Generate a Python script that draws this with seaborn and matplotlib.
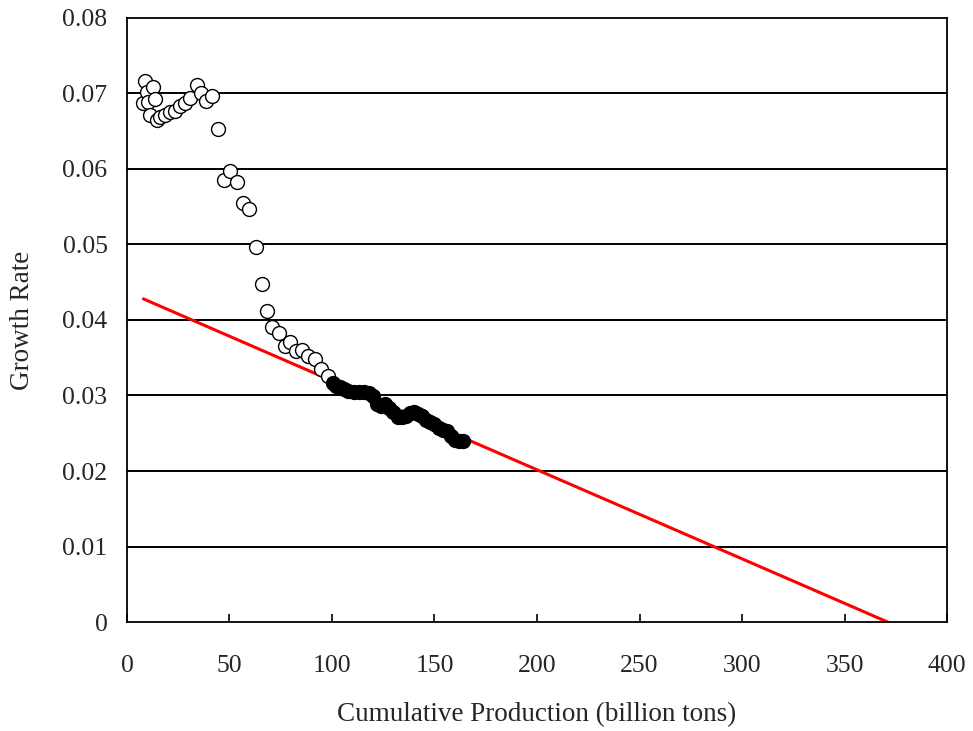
import matplotlib
matplotlib.use("Agg")
import matplotlib.pyplot as plt
import seaborn as sns
import pandas as pd

# Open circles (earlier period)
open_x = [7.8, 8.8, 9.8, 10.3, 11.2, 12.7, 13.7, 14.7, 16.1, 18.6, 21.0, 23.4, 25.9, 28.3,
          30.8, 34.2, 36.1, 38.6, 41.5, 44.4, 47.4, 50.3, 53.7, 56.7, 59.6, 63.0, 65.9,
          68.4, 70.8, 74.2, 77.2, 79.6, 82.5, 85.5, 88.4, 91.8, 94.8, 98.2]
open_y = [0.0687, 0.0717, 0.0702, 0.0689, 0.0672, 0.0709, 0.0693, 0.0665, 0.0669, 0.0672,
          0.0675, 0.0677, 0.0683, 0.0687, 0.0694, 0.0711, 0.0701, 0.0690, 0.0697, 0.0653,
          0.0585, 0.0597, 0.0583, 0.0555, 0.0547, 0.0497, 0.0448, 0.0412, 0.0391, 0.0383,
          0.0366, 0.0371, 0.0359, 0.0360, 0.0352, 0.0348, 0.0335, 0.0326]

# Filled circles (later period)
fill_x = [100.5, 102, 104, 106, 108, 110.5, 113, 115.5, 118, 120, 122, 124, 126, 128, 130,
          132, 134, 136, 138, 140, 142, 144, 146, 148, 150, 152, 154, 156, 158, 160, 162, 164]
fill_y = [0.0316, 0.0313, 0.0311, 0.0308, 0.0306, 0.0305, 0.0305, 0.0305, 0.0303, 0.0299,
          0.0289, 0.0286, 0.0289, 0.0283, 0.0278, 0.0272, 0.0271, 0.0273, 0.0277, 0.0278,
          0.0275, 0.0273, 0.0268, 0.0265, 0.0262, 0.0257, 0.0254, 0.0253, 0.0246, 0.0241,
          0.0240, 0.0240]

# Linear trend line
line_x = [8, 371]
line_y = [0.0428, 0.0]

x_ticks = [0, 50, 100, 150, 200, 250, 300, 350, 400]
y_ticks = [0, 0.01, 0.02, 0.03, 0.04, 0.05, 0.06, 0.07, 0.08]
y_tick_labels = ["0", "0.01", "0.02", "0.03", "0.04", "0.05", "0.06", "0.07", "0.08"]

sns.set_theme(style="white")
plt.rcParams['font.family'] = ['Liberation Serif', 'DejaVu Serif']

fig = plt.figure(figsize=(9.73, 7.31), dpi=100)
ax = fig.add_axes([0.1305, 0.1491, 0.8428, 0.8263])

for yv in y_ticks[1:-1]:
    ax.axhline(yv, color="black", lw=1.4, zorder=1)

df_open = pd.DataFrame({"x": open_x, "y": open_y})
df_fill = pd.DataFrame({"x": fill_x, "y": fill_y})
df_line = pd.DataFrame({"x": line_x, "y": line_y})

sns.lineplot(data=df_line, x="x", y="y", ax=ax, color="#ff0000", lw=2.2, zorder=2)
sns.scatterplot(data=df_open, x="x", y="y", ax=ax, s=100, facecolor="white",
                edgecolor="black", linewidth=1.0, zorder=3)
sns.scatterplot(data=df_fill, x="x", y="y", ax=ax, s=100, color="black",
                edgecolor="black", linewidth=1.0, zorder=4)

ax.set_xlim(0, 400)
ax.set_ylim(0, 0.08)
ax.set_xticks(x_ticks)
ax.set_xticklabels([str(v) for v in x_ticks])
ax.set_yticks(y_ticks)
ax.set_yticklabels(y_tick_labels)
ax.tick_params(axis="x", direction="in", length=6, width=1.2, color="black",
               labelsize=18.5, pad=24, bottom=True)
ax.tick_params(axis="y", length=0, labelsize=18.5, pad=14)
for sp in ax.spines.values():
    sp.set_color("black")
    sp.set_linewidth(1.3)
    sp.set_visible(True)

ax.set_xlabel("Cumulative Production (billion tons)", fontsize=19.5, labelpad=18)
ax.set_ylabel("Growth Rate", fontsize=19.5, labelpad=20)

fig.savefig("out.png", dpi=100)
